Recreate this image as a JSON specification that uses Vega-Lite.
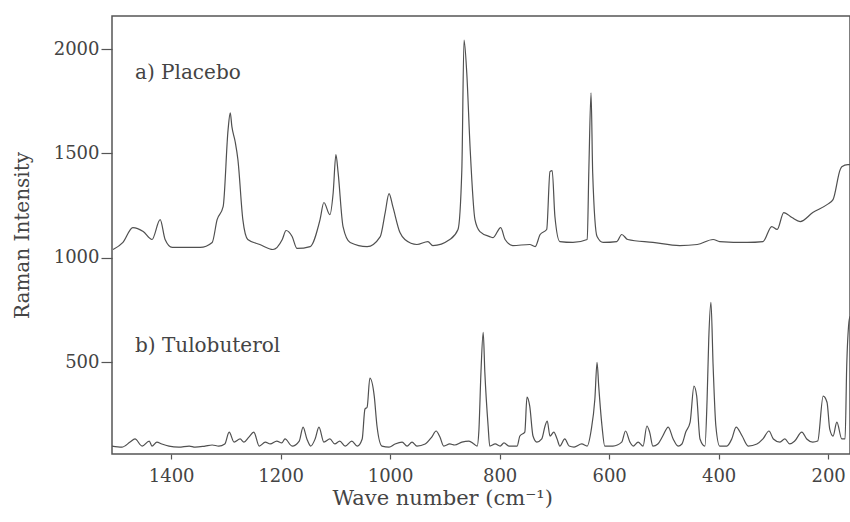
{
  "$schema": "https://vega.github.io/schema/vega-lite/v6.json",
  "width": 738,
  "height": 438,
  "autosize": {"type": "none"},
  "padding": {"left": 112, "top": 16, "right": 0, "bottom": 68},
  "background": "white",
  "config": {
    "view": {"stroke": "#555", "strokeWidth": 1.5},
    "font": "DejaVu Serif"
  },
  "datasets": {
    "spectra": [
      {"s":"a","x":1506,"y":1040},{"s":"a","x":1488,"y":1074},{"s":"a","x":1470,"y":1145},{"s":"a","x":1451,"y":1126},{"s":"a","x":1435,"y":1088},{"s":"a","x":1420,"y":1183},{"s":"a","x":1411,"y":1088},{"s":"a","x":1398,"y":1050},{"s":"a","x":1347,"y":1050},{"s":"a","x":1325,"y":1074},{"s":"a","x":1316,"y":1183},{"s":"a","x":1305,"y":1245},{"s":"a","x":1296,"y":1613},{"s":"a","x":1292,"y":1694},{"s":"a","x":1289,"y":1628},{"s":"a","x":1283,"y":1556},{"s":"a","x":1278,"y":1470},{"s":"a","x":1269,"y":1183},{"s":"a","x":1260,"y":1088},{"s":"a","x":1238,"y":1064},{"s":"a","x":1214,"y":1040},{"s":"a","x":1197,"y":1088},{"s":"a","x":1190,"y":1131},{"s":"a","x":1179,"y":1102},{"s":"a","x":1170,"y":1045},{"s":"a","x":1146,"y":1054},{"s":"a","x":1128,"y":1183},{"s":"a","x":1121,"y":1265},{"s":"a","x":1110,"y":1207},{"s":"a","x":1104,"y":1312},{"s":"a","x":1099,"y":1494},{"s":"a","x":1095,"y":1408},{"s":"a","x":1086,"y":1150},{"s":"a","x":1073,"y":1074},{"s":"a","x":1042,"y":1054},{"s":"a","x":1018,"y":1102},{"s":"a","x":1009,"y":1217},{"s":"a","x":1002,"y":1308},{"s":"a","x":995,"y":1245},{"s":"a","x":982,"y":1121},{"s":"a","x":973,"y":1088},{"s":"a","x":951,"y":1064},{"s":"a","x":931,"y":1078},{"s":"a","x":922,"y":1059},{"s":"a","x":891,"y":1088},{"s":"a","x":876,"y":1136},{"s":"a","x":869,"y":1422},{"s":"a","x":865,"y":2043},{"s":"a","x":860,"y":1885},{"s":"a","x":854,"y":1532},{"s":"a","x":845,"y":1183},{"s":"a","x":836,"y":1126},{"s":"a","x":818,"y":1102},{"s":"a","x":812,"y":1097},{"s":"a","x":798,"y":1145},{"s":"a","x":790,"y":1088},{"s":"a","x":776,"y":1059},{"s":"a","x":745,"y":1064},{"s":"a","x":735,"y":1054},{"s":"a","x":726,"y":1112},{"s":"a","x":714,"y":1136},{"s":"a","x":708,"y":1413},{"s":"a","x":704,"y":1418},{"s":"a","x":699,"y":1198},{"s":"a","x":690,"y":1078},{"s":"a","x":666,"y":1074},{"s":"a","x":640,"y":1088},{"s":"a","x":637,"y":1422},{"s":"a","x":633,"y":1790},{"s":"a","x":630,"y":1408},{"s":"a","x":622,"y":1102},{"s":"a","x":611,"y":1074},{"s":"a","x":586,"y":1078},{"s":"a","x":577,"y":1112},{"s":"a","x":566,"y":1088},{"s":"a","x":520,"y":1074},{"s":"a","x":471,"y":1059},{"s":"a","x":439,"y":1064},{"s":"a","x":410,"y":1088},{"s":"a","x":398,"y":1078},{"s":"a","x":348,"y":1074},{"s":"a","x":319,"y":1078},{"s":"a","x":303,"y":1150},{"s":"a","x":293,"y":1136},{"s":"a","x":281,"y":1217},{"s":"a","x":266,"y":1193},{"s":"a","x":251,"y":1174},{"s":"a","x":228,"y":1217},{"s":"a","x":202,"y":1255},{"s":"a","x":191,"y":1279},{"s":"a","x":178,"y":1422},{"s":"a","x":175,"y":1436},{"s":"a","x":164,"y":1446},{"s":"a","x":160,"y":1446},
      {"s":"b","x":1508,"y":99},{"s":"b","x":1490,"y":94},{"s":"b","x":1475,"y":118},{"s":"b","x":1466,"y":133},{"s":"b","x":1453,"y":99},{"s":"b","x":1440,"y":123},{"s":"b","x":1435,"y":99},{"s":"b","x":1426,"y":118},{"s":"b","x":1417,"y":109},{"s":"b","x":1404,"y":99},{"s":"b","x":1386,"y":94},{"s":"b","x":1367,"y":99},{"s":"b","x":1356,"y":94},{"s":"b","x":1338,"y":99},{"s":"b","x":1325,"y":104},{"s":"b","x":1313,"y":99},{"s":"b","x":1302,"y":109},{"s":"b","x":1294,"y":166},{"s":"b","x":1285,"y":118},{"s":"b","x":1274,"y":133},{"s":"b","x":1267,"y":118},{"s":"b","x":1258,"y":142},{"s":"b","x":1249,"y":166},{"s":"b","x":1239,"y":99},{"s":"b","x":1228,"y":118},{"s":"b","x":1219,"y":109},{"s":"b","x":1207,"y":123},{"s":"b","x":1198,"y":114},{"s":"b","x":1192,"y":133},{"s":"b","x":1179,"y":99},{"s":"b","x":1166,"y":123},{"s":"b","x":1159,"y":190},{"s":"b","x":1152,"y":133},{"s":"b","x":1145,"y":99},{"s":"b","x":1137,"y":133},{"s":"b","x":1130,"y":190},{"s":"b","x":1121,"y":118},{"s":"b","x":1110,"y":133},{"s":"b","x":1101,"y":109},{"s":"b","x":1092,"y":123},{"s":"b","x":1082,"y":99},{"s":"b","x":1070,"y":123},{"s":"b","x":1060,"y":99},{"s":"b","x":1051,"y":133},{"s":"b","x":1046,"y":276},{"s":"b","x":1042,"y":285},{"s":"b","x":1037,"y":424},{"s":"b","x":1029,"y":338},{"s":"b","x":1024,"y":195},{"s":"b","x":1015,"y":99},{"s":"b","x":1002,"y":94},{"s":"b","x":991,"y":109},{"s":"b","x":978,"y":118},{"s":"b","x":969,"y":99},{"s":"b","x":960,"y":118},{"s":"b","x":951,"y":99},{"s":"b","x":936,"y":109},{"s":"b","x":924,"y":142},{"s":"b","x":916,"y":171},{"s":"b","x":909,"y":142},{"s":"b","x":902,"y":99},{"s":"b","x":891,"y":109},{"s":"b","x":882,"y":104},{"s":"b","x":869,"y":118},{"s":"b","x":856,"y":123},{"s":"b","x":847,"y":109},{"s":"b","x":841,"y":99},{"s":"b","x":838,"y":166},{"s":"b","x":834,"y":457},{"s":"b","x":830,"y":644},{"s":"b","x":827,"y":453},{"s":"b","x":821,"y":195},{"s":"b","x":818,"y":99},{"s":"b","x":808,"y":109},{"s":"b","x":799,"y":99},{"s":"b","x":792,"y":114},{"s":"b","x":783,"y":99},{"s":"b","x":768,"y":99},{"s":"b","x":763,"y":147},{"s":"b","x":754,"y":166},{"s":"b","x":750,"y":333},{"s":"b","x":745,"y":290},{"s":"b","x":739,"y":147},{"s":"b","x":732,"y":118},{"s":"b","x":723,"y":133},{"s":"b","x":717,"y":195},{"s":"b","x":713,"y":219},{"s":"b","x":708,"y":147},{"s":"b","x":701,"y":166},{"s":"b","x":695,"y":133},{"s":"b","x":690,"y":99},{"s":"b","x":681,"y":133},{"s":"b","x":673,"y":99},{"s":"b","x":664,"y":94},{"s":"b","x":650,"y":109},{"s":"b","x":640,"y":99},{"s":"b","x":633,"y":171},{"s":"b","x":626,"y":324},{"s":"b","x":622,"y":500},{"s":"b","x":619,"y":386},{"s":"b","x":613,"y":195},{"s":"b","x":608,"y":99},{"s":"b","x":593,"y":99},{"s":"b","x":577,"y":118},{"s":"b","x":570,"y":171},{"s":"b","x":562,"y":118},{"s":"b","x":556,"y":99},{"s":"b","x":547,"y":118},{"s":"b","x":538,"y":99},{"s":"b","x":531,"y":195},{"s":"b","x":526,"y":166},{"s":"b","x":520,"y":99},{"s":"b","x":511,"y":109},{"s":"b","x":502,"y":147},{"s":"b","x":492,"y":190},{"s":"b","x":483,"y":133},{"s":"b","x":474,"y":99},{"s":"b","x":467,"y":109},{"s":"b","x":460,"y":166},{"s":"b","x":452,"y":214},{"s":"b","x":445,"y":386},{"s":"b","x":440,"y":338},{"s":"b","x":434,"y":133},{"s":"b","x":425,"y":99},{"s":"b","x":421,"y":324},{"s":"b","x":418,"y":610},{"s":"b","x":414,"y":787},{"s":"b","x":410,"y":481},{"s":"b","x":405,"y":195},{"s":"b","x":398,"y":99},{"s":"b","x":385,"y":99},{"s":"b","x":376,"y":133},{"s":"b","x":368,"y":190},{"s":"b","x":357,"y":147},{"s":"b","x":346,"y":99},{"s":"b","x":330,"y":109},{"s":"b","x":319,"y":133},{"s":"b","x":308,"y":171},{"s":"b","x":300,"y":133},{"s":"b","x":288,"y":118},{"s":"b","x":279,"y":133},{"s":"b","x":270,"y":109},{"s":"b","x":261,"y":123},{"s":"b","x":248,"y":166},{"s":"b","x":239,"y":133},{"s":"b","x":228,"y":118},{"s":"b","x":219,"y":123},{"s":"b","x":209,"y":338},{"s":"b","x":202,"y":309},{"s":"b","x":197,"y":180},{"s":"b","x":191,"y":147},{"s":"b","x":184,"y":214},{"s":"b","x":175,"y":133},{"s":"b","x":169,"y":133},{"s":"b","x":166,"y":481},{"s":"b","x":162,"y":691},{"s":"b","x":160,"y":720}
    ],
    "labels": [
      {"x": 1466, "y": 1885, "label": "a)  Placebo"},
      {"x": 1466, "y": 577, "label": "b)  Tulobuterol"}
    ]
  },
  "layer": [
    {
      "data": {"name": "spectra"},
      "mark": {"type": "line", "color": "#505050", "strokeWidth": 1.2, "interpolate": "monotone", "clip": true},
      "encoding": {
        "x": {
          "field": "x", "type": "quantitative",
          "scale": {"domain": [160, 1508], "reverse": true, "nice": false, "zero": false},
          "axis": {
            "values": [1400, 1200, 1000, 800, 600, 400, 200],
            "format": "d",
            "grid": false, "domain": false,
            "tickColor": "#555", "tickSize": 5, "tickWidth": 1.2,
            "labelFont": "DejaVu Serif", "labelFontSize": 18, "labelColor": "#444",
            "labelPadding": 8, "labelFlush": false,
            "title": "Wave number  (cm⁻¹)",
            "titleFont": "DejaVu Serif", "titleFontSize": 21, "titleFontWeight": "normal", "titleColor": "#444",
            "titleX": 220, "titleY": 50, "titleAlign": "left", "titleAnchor": "start", "titleBaseline": "alphabetic"
          }
        },
        "y": {
          "field": "y", "type": "quantitative",
          "scale": {"domain": [61, 2158], "nice": false, "zero": false},
          "axis": {
            "values": [500, 1000, 1500, 2000],
            "format": "d",
            "grid": false, "domain": false,
            "tickColor": "#555", "tickSize": 11, "tickWidth": 1.2,
            "labelFont": "DejaVu Serif", "labelFontSize": 18, "labelColor": "#444",
            "labelPadding": 2,
            "title": "Raman Intensity",
            "titleFont": "DejaVu Serif", "titleFontSize": 20, "titleFontWeight": "normal", "titleColor": "#444",
            "titleX": -80, "titleY": 219, "titleAngle": -90, "titleAlign": "center", "titleBaseline": "bottom"
          }
        },
        "detail": {"field": "s"}
      }
    },
    {
      "data": {"name": "labels"},
      "mark": {"type": "text", "align": "left", "baseline": "middle", "font": "DejaVu Serif", "fontSize": 20, "color": "#444"},
      "encoding": {
        "x": {"field": "x", "type": "quantitative"},
        "y": {"field": "y", "type": "quantitative"},
        "text": {"field": "label"}
      }
    }
  ]
}
